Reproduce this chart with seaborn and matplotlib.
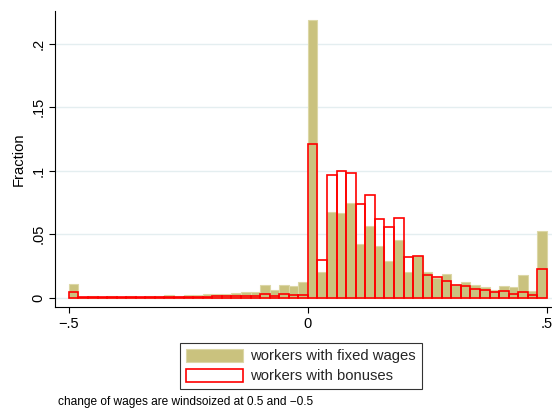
import numpy as np
import pandas as pd
import matplotlib
matplotlib.use("Agg")
import matplotlib.pyplot as plt
from matplotlib.patches import Patch
import seaborn as sns

# ---- data (fraction per bin of width 0.02, from -0.5 to 0.5) ----
bin_start = -0.5
bin_end = 0.5
bin_width = 0.02
fixed_wages = [
    0.0108, 0.0005, 0.0011, 0.0007, 0.0011, 0.0008, 0.0011, 0.0009, 0.0012, 0.0011,
    0.0020, 0.0016, 0.0020, 0.0022, 0.0026, 0.0028, 0.0030, 0.0034, 0.0043, 0.0043,
    0.0100, 0.0058, 0.0104, 0.0091, 0.0121,
    0.2187, 0.0201, 0.0676, 0.0668, 0.0745, 0.0420, 0.0565, 0.0404, 0.0289, 0.0452,
    0.0201, 0.0330, 0.0201, 0.0158, 0.0186, 0.0104, 0.0121, 0.0097, 0.0084, 0.0059,
    0.0094, 0.0081, 0.0180, 0.0056, 0.0522,
]
bonuses = [
    0.0047, 0.0003, 0.0003, 0.0003, 0.0003, 0.0003, 0.0003, 0.0003, 0.0004, 0.0004,
    0.0005, 0.0006, 0.0007, 0.0008, 0.0009, 0.0010, 0.0012, 0.0013, 0.0015, 0.0016,
    0.0026, 0.0016, 0.0026, 0.0021, 0.0024,
    0.1213, 0.0294, 0.0963, 0.1000, 0.0984, 0.0738, 0.0806, 0.0622, 0.0554, 0.0630,
    0.0323, 0.0331, 0.0181, 0.0166, 0.0134, 0.0102, 0.0093, 0.0068, 0.0058, 0.0044,
    0.0052, 0.0032, 0.0047, 0.0025, 0.0228,
]
x_ticks = [-0.5, 0.0, 0.5]
x_tick_labels = ["\u2212.5", "0", ".5"]
y_ticks = [0.0, 0.05, 0.10, 0.15, 0.20]
y_tick_labels = ["0", ".05", ".1", ".15", ".2"]
series_labels = ["workers with fixed wages", "workers with bonuses"]
y_title = "Fraction"
note = "change of wages are windsoized at 0.5 and \u22120.5"

TAN = "#cac27e"
TAN_EDGE = "#dcd7a6"
RED = "#ff0000"

n = len(fixed_wages)
centers = bin_start + bin_width * (np.arange(n) + 0.5)
df = pd.DataFrame({"x": centers, "fixed": fixed_wages, "bonus": bonuses})

sns.set_theme(style="white")
plt.rcParams["font.family"] = ["Liberation Sans", "DejaVu Sans"]

W, H = 552, 411
fig = plt.figure(figsize=(W / 100, H / 100), dpi=100)
ax = fig.add_axes([55 / W, 1 - 307 / H, (552 - 55) / W, (307 - 11) / H])

sns.histplot(data=df, x="x", weights="fixed", binwidth=bin_width,
             binrange=(bin_start, bin_end), stat="count",
             color=TAN, edgecolor=TAN_EDGE, linewidth=0.8, alpha=1.0,
             ax=ax, zorder=2)
sns.histplot(data=df, x="x", weights="bonus", binwidth=bin_width,
             binrange=(bin_start, bin_end), stat="count",
             fill=False, color=RED, linewidth=1.2, ax=ax, zorder=3)

ax.set_xlim(-0.529, 0.5105)
ax.set_ylim(-0.0073, 0.2257)
ax.set_xticks(x_ticks)
ax.set_xticklabels(x_tick_labels)
ax.set_yticks(y_ticks)
ax.set_yticklabels(y_tick_labels, rotation=90, va="center")
ax.yaxis.grid(True, color="#e4eef0", linewidth=1.0)
ax.xaxis.grid(False)
ax.set_axisbelow(True)
for s in ["top", "right"]:
    ax.spines[s].set_visible(False)
for s in ["left", "bottom"]:
    ax.spines[s].set_color("black")
    ax.spines[s].set_linewidth(0.8)
ax.tick_params(axis="both", direction="out", length=4, width=0.8, color="black",
               labelsize=10.5, labelcolor="black", pad=3, bottom=True, left=True)
ax.set_xlabel("")
ax.set_ylabel(y_title, fontsize=10.6, color="black", labelpad=4)

handles = [Patch(facecolor=TAN, edgecolor=TAN_EDGE, linewidth=0.8),
           Patch(facecolor="white", edgecolor=RED, linewidth=1.2)]
leg = fig.legend(handles=handles, labels=series_labels, loc="center",
                 bbox_to_anchor=(301 / W, 1 - 366 / H), frameon=True,
                 fancybox=False, edgecolor="black", handlelength=3.85,
                 handleheight=1.0, handletextpad=0.45, labelspacing=0.35,
                 borderpad=0.4, fontsize=10.7)
leg.get_frame().set_linewidth(0.8)

fig.text(58 / W, 1 - 402 / H, note, fontsize=8.6, va="center", ha="left",
         color="black")

fig.savefig("out.png", dpi=100)
